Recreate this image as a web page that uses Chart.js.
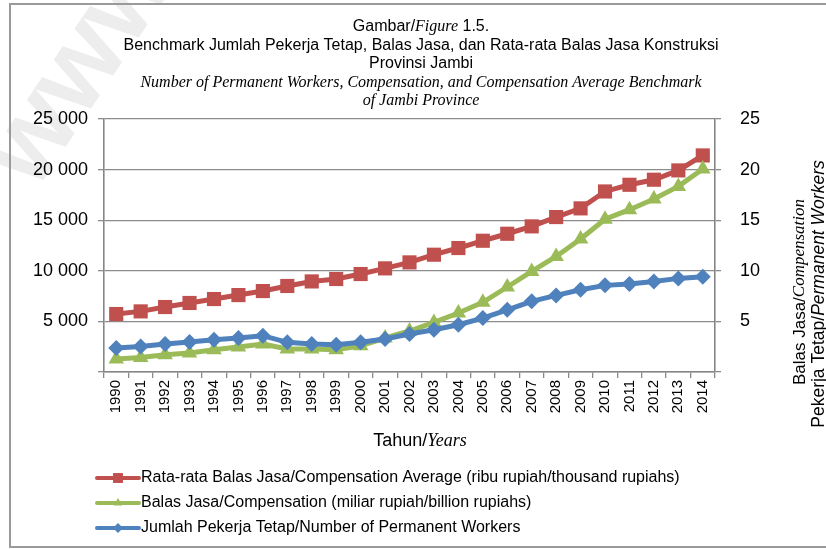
<!DOCTYPE html>
<html><head><meta charset="utf-8">
<script src="https://cdn.jsdelivr.net/npm/chart.js@4/dist/chart.umd.min.js"></script>
<style>html,body{margin:0;padding:0;background:#fff}#wrap{width:826px;height:549px;position:relative}</style>
</head><body><div id="wrap"><canvas id="c" width="826" height="549"></canvas></div>
<script>
// ---- data ----
const years = ['1990','1991','1992','1993','1994','1995','1996','1997','1998','1999','2000','2001','2002','2003','2004','2005','2006','2007','2008','2009','2010','2011','2012','2013','2014'];
// Rata-rata Balas Jasa (ribu rupiah) - left axis
const compAvg = [5730,5990,6420,6820,7210,7600,8000,8500,8950,9190,9680,10240,10830,11590,12250,12970,13660,14390,15310,16170,17840,18500,19000,19920,21400];
// Balas Jasa (miliar rupiah) - right axis
const comp = [1.28,1.44,1.71,1.88,2.2,2.47,2.77,2.27,2.27,2.2,2.6,3.36,4.05,4.9,5.83,6.88,8.4,9.94,11.42,13.14,15.1,16.04,17.1,18.34,20.06];
// Jumlah Pekerja Tetap - right axis
const workers = [2.37,2.53,2.77,2.96,3.19,3.36,3.59,2.93,2.77,2.7,2.93,3.26,3.75,4.18,4.67,5.33,6.15,6.98,7.57,8.13,8.56,8.69,8.95,9.25,9.42];
const leftTickStep = 5000, leftMax = 25000;
const rightTickStep = 5, rightMax = 25;
const seriesLabels = [
  'Rata-rata Balas Jasa/Compensation Average (ribu rupiah/thousand rupiahs)',
  'Balas Jasa/Compensation (miliar rupiah/billion rupiahs)',
  'Jumlah Pekerja Tetap/Number of Permanent Workers'
];

const RED='#C0504D', GREEN='#9BBB59', BLUE='#4F81BD';
const SANS='"Liberation Sans", Arial, sans-serif', SERIF='"Liberation Serif", "Times New Roman", serif';
const S=n=>`${n}px ${SANS}`, SI=n=>`italic ${n}px ${SANS}`, I=n=>`italic ${n}px ${SERIF}`;

function rich(ctx, segs, cx, cy, rot){
  let total=0; const ws=[];
  segs.forEach(s=>{ctx.font=s.f; const w=ctx.measureText(s.t).width; ws.push(w); total+=w;});
  ctx.save(); ctx.translate(cx,cy); if(rot) ctx.rotate(rot);
  ctx.textBaseline='middle'; ctx.textAlign='left'; ctx.fillStyle='#000';
  let x=-total/2;
  segs.forEach((s,i)=>{ctx.font=s.f; ctx.fillText(s.t,x,0); x+=ws[i];});
  ctx.restore();
}

const deco = {
  id:'deco',
  beforeDraw(chart){
    const ctx=chart.ctx;
    ctx.save(); ctx.fillStyle='#fff'; ctx.fillRect(0,0,chart.width,chart.height);
    // faint watermark
    ctx.translate(10,175); ctx.rotate(-0.98); ctx.fillStyle='#ededed';
    ctx.font=`bold 110px ${SANS}`; ctx.textBaseline='middle'; ctx.fillText('www.',0,0);
    ctx.restore();
  },
  afterDraw(chart){
    const ctx=chart.ctx;
    // frame
    ctx.save(); ctx.strokeStyle='#9a9a9a'; ctx.lineWidth=2;
    ctx.strokeRect(10,4,840,543); ctx.restore();
    // title
    const cx=421;
    rich(ctx,[{t:'Gambar/',f:S(16)},{t:'Figure',f:I(16)},{t:' 1.5.',f:S(16)}],cx,27);
    rich(ctx,[{t:'Benchmark Jumlah Pekerja Tetap, Balas Jasa, dan Rata-rata Balas Jasa Konstruksi',f:S(16)}],cx,46);
    rich(ctx,[{t:'Provinsi Jambi',f:S(16)}],cx,64);
    rich(ctx,[{t:'Number of Permanent Workers, Compensation, and Compensation Average Benchmark',f:I(16)}],cx,83);
    rich(ctx,[{t:'of Jambi Province',f:I(16)}],cx,101);
    // x title
    rich(ctx,[{t:'Tahun/',f:S(18)},{t:'Years',f:I(18)}],420,441);
    // right title
    rich(ctx,[{t:'Balas Jasa/',f:S(17)},{t:'Compensation',f:I(17)}],800,292,-Math.PI/2);
    rich(ctx,[{t:'Pekerja Tetap/',f:S(17.5)},{t:'Permanent Workers',f:SI(17.5)}],819,294,-Math.PI/2);
    // legend
    const ys=[478,503,528];
    [0,1,2].forEach((di,i)=>{
      const ds=chart.data.datasets[di];
      const y=ys[i];
      ctx.save();
      ctx.strokeStyle=ds.borderColor; ctx.lineWidth=4; ctx.lineCap='round';
      ctx.beginPath(); ctx.moveTo(97,y); ctx.lineTo(139,y); ctx.stroke();
      ctx.fillStyle=ds.backgroundColor; ctx.strokeStyle=ds.backgroundColor;
      Chart.helpers.drawPoint(ctx,{pointStyle:ds.pointStyle,radius:ds.pointStyle==='rect'?7:5,borderWidth:0},118,y);
      ctx.font=S(16); ctx.fillStyle='#000'; ctx.textBaseline='middle'; ctx.textAlign='left';
      ctx.fillText(seriesLabels[di],141,y);
      ctx.restore();
    });
  }
};

const fmt=v=>v===0?'':String(v).replace(/\B(?=(\d{3})+(?!\d))/g,' ');

new Chart(document.getElementById('c'),{
  type:'line',
  data:{
    labels:years,
    datasets:[
      {label:seriesLabels[0],data:compAvg,yAxisID:'y',borderColor:RED,backgroundColor:RED,borderWidth:5,
       pointStyle:'rect',pointRadius:10,pointBorderWidth:0,pointBackgroundColor:RED,tension:0,order:2},
      {label:seriesLabels[1],data:comp,yAxisID:'y1',borderColor:GREEN,backgroundColor:GREEN,borderWidth:5,
       pointStyle:'triangle',pointRadius:9,pointBorderWidth:0,pointBackgroundColor:GREEN,tension:0,order:1},
      {label:seriesLabels[2],data:workers,yAxisID:'y1',borderColor:BLUE,backgroundColor:BLUE,borderWidth:5,
       pointStyle:'rectRot',pointRadius:8,pointBorderWidth:0,pointBackgroundColor:BLUE,tension:0,order:0}
    ]
  },
  options:{
    responsive:false,animation:false,
    layout:{padding:{top:119,left:0,right:0,bottom:0}},
    plugins:{legend:{display:false},title:{display:false},tooltip:{enabled:false}},
    scales:{
      x:{offset:true,
         grid:{offset:true,drawOnChartArea:false,drawTicks:true,tickLength:6,color:'#8a8a8a',lineWidth:1.3},
         border:{color:'#868686',width:1.6},
         ticks:{minRotation:90,maxRotation:90,autoSkip:false,color:'#000',font:{family:SANS,size:15},padding:2},
         afterFit(s){s.height=177;}},
      y:{position:'left',min:0,max:leftMax,
         ticks:{stepSize:leftTickStep,callback:fmt,color:'#000',font:{family:SANS,size:18},padding:10},
         grid:{color:'#8c8c8c',lineWidth:1.3,tickLength:6},
         border:{color:'#868686',width:1.6},
         afterFit(s){s.width=104;}},
      y1:{position:'right',min:0,max:rightMax,
         ticks:{stepSize:rightTickStep,callback:v=>v===0?'':v,color:'#000',font:{family:SANS,size:18},padding:19},
         grid:{drawOnChartArea:false,color:'#8c8c8c',lineWidth:1.3,tickLength:6},
         border:{color:'#868686',width:1.6},
         afterFit(s){s.width=111;}}
    }
  },
  plugins:[deco]
});
</script></body></html>
